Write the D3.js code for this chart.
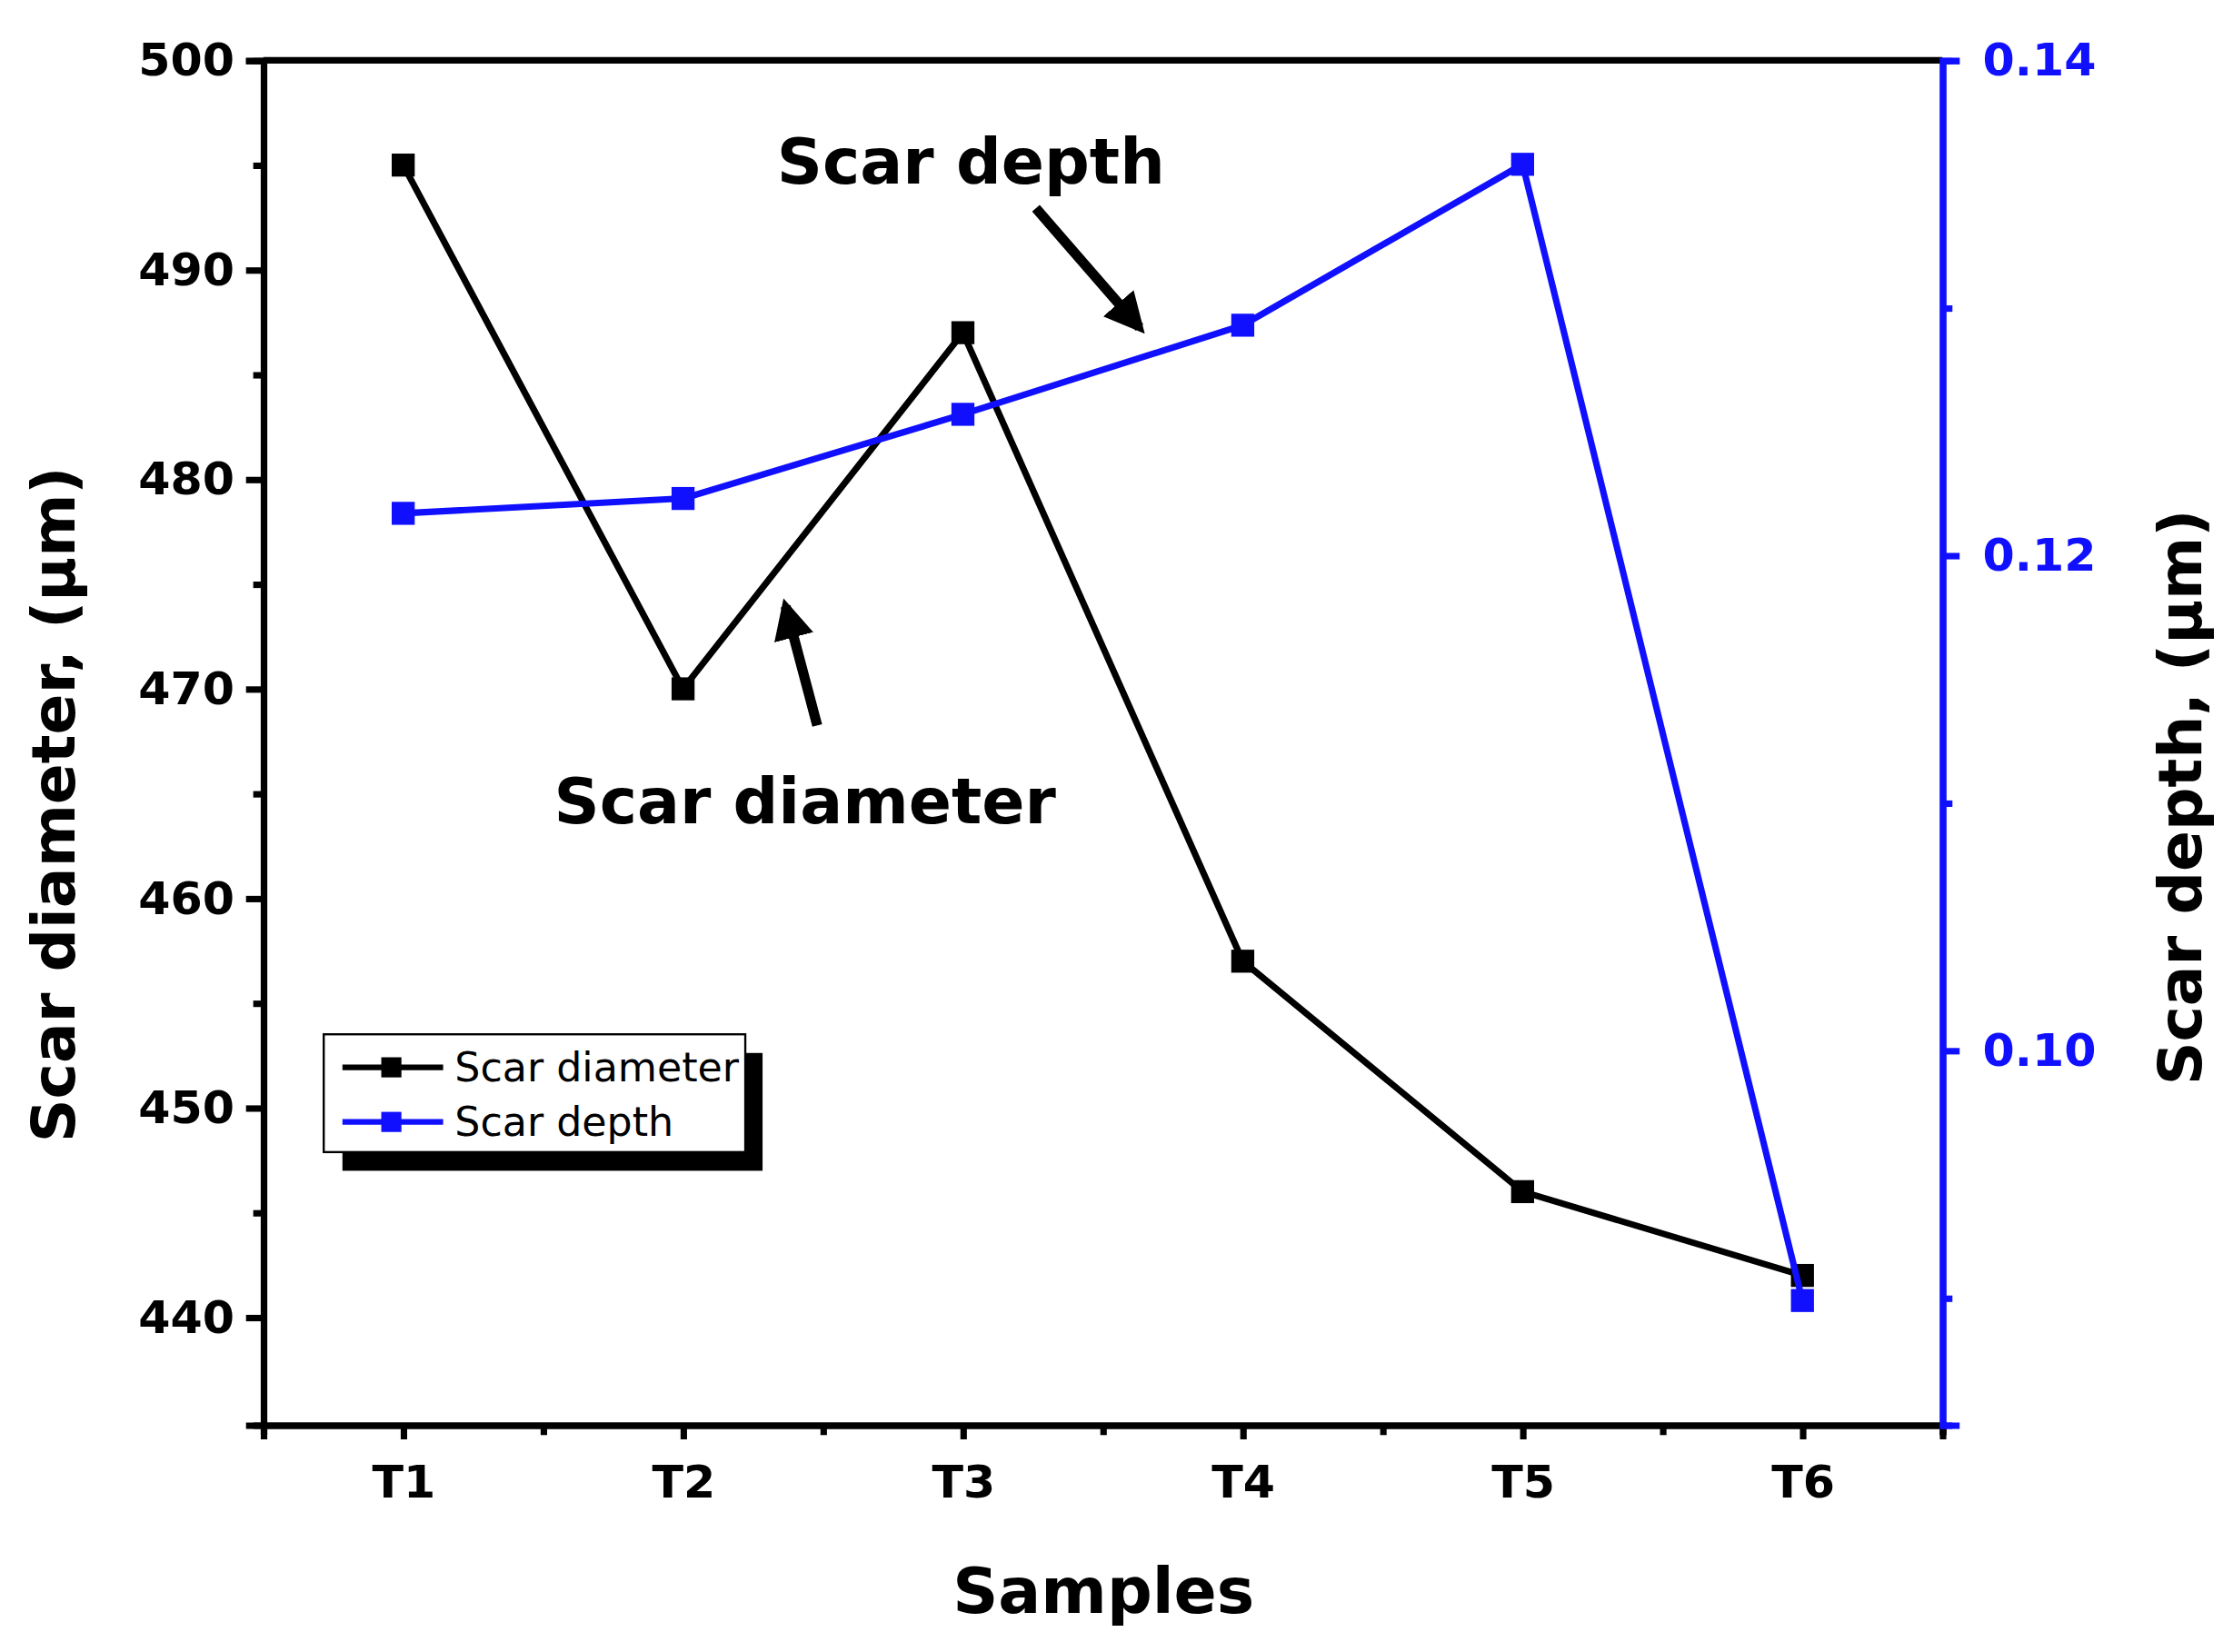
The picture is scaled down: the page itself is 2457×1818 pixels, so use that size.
<!DOCTYPE html><html><head><meta charset="utf-8">
<script src="https://cdn.jsdelivr.net/npm/d3@7"></script>
<style>body{margin:0;background:#fff}svg{display:block}text{font-family:"DejaVu Sans",Arial,sans-serif}</style>
</head><body><svg id="c" width="2457" height="1818" viewBox="0 0 1552 1150" preserveAspectRatio="none"></svg>
<script>
const categories=["T1","T2","T3","T4","T5","T6"];
const scarDiameter=[495,470,487,457,446,442];
const scarDepth=[0.1217,0.1223,0.1257,0.1293,0.1358,0.0899];
const leftTicks=[440,450,460,470,480,490,500];
const rightTicks=[0.10,0.12,0.14];
const svg=d3.select("#c");
const L=183,R=1350,T=42,B=992;
const x=d3.scaleLinear().domain([-0.5,5.5]).range([L,R]);
const yL=d3.scaleLinear().domain([434.86,500]).range([B,T]);
const yR=d3.scaleLinear().domain([0.08487,0.14]).range([B,T]);
const blue="#1010ff";
svg.append("line").attr("x1",L).attr("x2",R).attr("y1",T).attr("y2",T).attr("stroke","#000").attr("stroke-width",4.5);
const gl=svg.append("g").attr("transform",`translate(${L},0)`).call(d3.axisLeft(yL).tickValues(leftTicks).tickSize(12).tickPadding(8));
gl.append("g").call(d3.axisLeft(yL).tickValues(d3.range(445,500,10)).tickSize(7).tickFormat(""));
gl.selectAll("path,line").attr("stroke","#000").attr("stroke-width",4.5);
gl.selectAll("text").attr("font-size",32).attr("font-weight","bold").attr("fill","#000");
const gb=svg.append("g").attr("transform",`translate(0,${B})`).call(d3.axisBottom(x).tickValues(d3.range(6)).tickFormat(i=>categories[i]).tickSize(10).tickPadding(18));
gb.append("g").call(d3.axisBottom(x).tickValues(d3.range(-0.5,5.6,1)).tickSize(7).tickFormat(""));
gb.selectAll("path,line").attr("stroke","#000").attr("stroke-width",4.5);
gb.selectAll("text").attr("font-size",32).attr("font-weight","bold").attr("fill","#000");
const gr=svg.append("g").attr("transform",`translate(${R},0)`).call(d3.axisRight(yR).tickValues(rightTicks).tickFormat(d3.format(".2f")).tickSize(12).tickPadding(16));
gr.append("g").call(d3.axisRight(yR).tickValues([0.09,0.11,0.13]).tickSize(7).tickFormat(""));
gr.selectAll("path,line").attr("stroke",blue).attr("stroke-width",4.5);
gr.selectAll("text").attr("font-size",32).attr("font-weight","bold").attr("fill",blue);
svg.append("text").attr("x",767).attr("y",1123).attr("text-anchor","middle").attr("font-size",44).attr("font-weight","bold").text("Samples");
svg.append("text").attr("transform","translate(52,560) rotate(-90)").attr("text-anchor","middle").attr("font-size",42).attr("font-weight","bold").text("Scar diameter, (μm)");
svg.append("text").attr("transform","translate(1530,555) rotate(-90)").attr("text-anchor","middle").attr("font-size",42).attr("font-weight","bold").text("Scar depth, (μm)");
const idx=d3.range(6);
svg.append("path").attr("d",d3.line().x(i=>x(i)).y(i=>yL(scarDiameter[i]))(idx)).attr("fill","none").attr("stroke","#000").attr("stroke-width",4.5);
svg.selectAll(".m1").data(idx).join("rect").attr("x",i=>x(i)-8).attr("y",i=>yL(scarDiameter[i])-8).attr("width",16).attr("height",16).attr("fill","#000");
svg.append("path").attr("d",d3.line().x(i=>x(i)).y(i=>yR(scarDepth[i]))(idx)).attr("fill","none").attr("stroke",blue).attr("stroke-width",4.5);
svg.selectAll(".m2").data(idx).join("rect").attr("x",i=>x(i)-8).attr("y",i=>yR(scarDepth[i])-8).attr("width",16).attr("height",16).attr("fill",blue);
svg.append("defs").append("marker").attr("id","ah").attr("viewBox","0 0 10 10").attr("refX",8).attr("refY",5).attr("markerWidth",4).attr("markerHeight",4).attr("orient","auto").append("path").attr("d","M0,0L10,5L0,10z").attr("fill","#000");
svg.append("text").attr("x",540).attr("y",128).attr("font-size",44).attr("font-weight","bold").text("Scar depth");
svg.append("line").attr("x1",720).attr("y1",145).attr("x2",792).attr("y2",228).attr("stroke","#000").attr("stroke-width",7).attr("marker-end","url(#ah)");
svg.append("text").attr("x",385).attr("y",573).attr("font-size",44).attr("font-weight","bold").text("Scar diameter");
svg.append("line").attr("x1",568).attr("y1",505).attr("x2",546).attr("y2",422).attr("stroke","#000").attr("stroke-width",7).attr("marker-end","url(#ah)");
svg.append("rect").attr("x",238).attr("y",733).attr("width",292).attr("height",82).attr("fill","#000");
svg.append("rect").attr("x",225).attr("y",720).attr("width",293).attr("height",82).attr("fill","#fff").attr("stroke","#000").attr("stroke-width",1.5);
[["Scar diameter","#000",743],["Scar depth",blue,781]].forEach(([t,c,y])=>{
 svg.append("line").attr("x1",238).attr("x2",308).attr("y1",y).attr("y2",y).attr("stroke",c).attr("stroke-width",4);
 svg.append("rect").attr("x",265).attr("y",y-7).attr("width",14).attr("height",14).attr("fill",c);
 svg.append("text").attr("x",316).attr("y",y+10).attr("font-family","Liberation Sans, Arial").attr("font-size",28).text(t);
});
</script></body></html>
